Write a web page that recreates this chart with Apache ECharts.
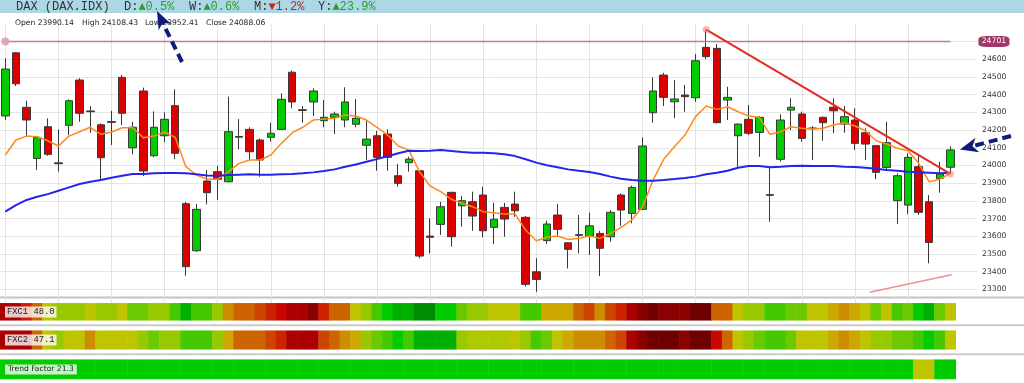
<!DOCTYPE html>
<html><head><meta charset="utf-8">
<script src="https://cdn.jsdelivr.net/npm/echarts@6/dist/echarts.min.js"></script>
<style>html,body{margin:0;padding:0;background:#fff}#c{width:1024px;height:383px}</style>
</head><body><div id="c"></div>
<script>
// ---- data ----
const opens  = [24280,24637,24329,24040,24219,24015,24227,24483,24308,24230,24248,24498,24100,24421,24055,24168,24338,23784,23518,23912,23965,23908,24164,24204,24144,24159,24204,24527,24315,24359,24253,24272,24257,24233,24114,24168,24178,23942,24016,23970,23601,23667,23848,23772,23795,23833,23650,23763,23782,23707,23399,23575,23720,23563,23609,23601,23616,23597,23833,23729,23752,24298,24511,24360,24398,24383,24668,24662,24370,24168,24261,24187,23835,24035,24313,24291,24212,24272,24329,24234,24257,24185,24112,23989,23801,23776,23993,23795,23927,23990.14];
const highs  = [24606,24640,24366,24162,24266,24204,24374,24493,24336,24238,24309,24513,24247,24440,24306,24300,24430,23795,23782,23974,23997,24389,24262,24216,24153,24242,24408,24536,24336,24436,24370,24304,24442,24376,24253,24196,24204,24008,24049,23974,23701,23795,23852,23827,23852,23880,23789,23789,23852,23714,23475,23688,23782,23566,23720,23733,23631,23748,23842,23886,24159,24498,24524,24483,24455,24630,24766,24686,24445,24238,24342,24279,23993,24289,24380,24304,24223,24276,24380,24336,24323,24210,24116,24247,23955,24069,24053,23833,24021,24108.43];
const lows   = [24257,24449,24168,23974,24055,23965,24172,24247,24185,23918,24116,24229,24063,23940,24046,24131,24036,23377,23512,23780,23805,23905,24091,24031,23936,24134,24200,24323,24242,24279,24216,24178,24216,24216,24031,23970,23970,23880,23965,23475,23503,23607,23541,23654,23631,23594,23556,23597,23710,23315,23286,23556,23594,23418,23503,23494,23375,23569,23658,23673,23748,24242,24336,24267,24304,24360,24600,24238,24257,23984,24172,24049,23682,24021,24200,24134,24031,24140,24182,24185,24087,24031,23922,23980,23669,23725,23720,23447,23846,23952.41];
const closes = [24545,24462,24257,24159,24063,24010,24366,24295,24304,24044,24244,24295,24216,23969,24216,24261,24069,23428,23752,23846,23922,24191,24160,24078,24031,24182,24374,24359,24311,24421,24272,24291,24359,24267,24149,24046,24046,23899,24036,23488,23594,23767,23597,23801,23714,23631,23696,23697,23744,23328,23356,23669,23639,23526,23605,23659,23532,23735,23748,23876,24110,24421,24385,24376,24389,24592,24615,24242,24385,24234,24182,24272,23831,24257,24329,24153,24208,24242,24309,24276,24125,24121,23961,24129,23942,24046,23735,23565,23952,24088.06];
const maFast = [24059,24144,24166,24162,24140,24110,24166,24191,24216,24176,24189,24213,24213,24157,24166,24189,24159,23993,23946,23923,23922,23965,24012,24031,24031,24059,24125,24184,24216,24257,24262,24267,24285,24280,24257,24216,24172,24110,24087,23965,23884,23852,23809,23786,23767,23739,23733,23725,23725,23635,23575,23594,23601,23582,23588,23601,23588,23616,23650,23692,23767,23918,24035,24106,24172,24276,24336,24317,24332,24304,24280,24272,24176,24191,24219,24210,24206,24210,24229,24242,24223,24196,24140,24121,24097,24083,24012,23908,23922,23956];
const maSlow = [23739,23776,23805,23823,23838,23857,23876,23895,23908,23918,23931,23942,23952,23952,23956,23957,23957,23956,23950,23944,23942,23946,23948,23950,23948,23948,23950,23952,23956,23961,23969,23978,23993,24006,24021,24036,24052,24069,24083,24082,24083,24087,24082,24076,24072,24072,24069,24063,24053,24035,24016,24001,23990,23978,23970,23963,23952,23937,23925,23918,23914,23914,23918,23923,23929,23937,23950,23959,23970,23987,23997,23997,23990,23993,23997,23999,23997,23997,23997,23993,23991,23987,23982,23974,23970,23965,23961,23959,23956,23959];
const fxc1 = [17,17,25,34,47,53,53,53,47,53,53,47,59,59,53,53,65,80,65,65,53,38,34,34,30,26,22,17,17,11,26,34,34,47,53,65,72,80,80,88,88,72,72,59,53,53,47,47,47,65,65,42,42,42,34,30,38,30,26,17,11,5,11,11,11,5,5,34,34,47,53,53,65,65,59,59,47,47,42,38,42,47,59,47,65,59,72,80,59,48.0];
const fxc2 = [17,17,17,34,47,53,47,47,38,47,47,47,47,53,59,53,53,65,65,65,53,42,34,34,34,30,26,17,17,17,30,34,38,42,53,59,65,72,65,80,80,80,80,53,50,50,50,50,47,53,65,59,47,42,38,38,38,34,30,17,11,5,5,5,11,5,5,22,34,47,53,59,65,65,59,47,47,47,42,38,42,47,53,53,59,59,65,72,65,47.1];
const trendFactor = [30,30,30,30,30,30,30,30,30,30,30,30,30,30,30,30,30,30,30,30,30,30,30,30,30,30,30,30,30,30,30,30,30,30,30,30,30,30,30,30,30,30,30,30,30,30,30,30,30,30,30,30,30,30,30,30,30,30,30,30,30,30,30,30,30,30,30,30,30,30,30,30,30,30,30,30,30,30,30,30,30,30,30,30,30,30,8,8,25,21.3];
const yTickLabels = [23300,23400,23500,23600,23700,23800,23900,24000,24100,24200,24300,24400,24500,24600];
const gridCandleIdx = [0,5,10,15,20,25,30,35,40,45,50,55,60,65,70,75,80,85];
const resistance = 24701;
const trendDown = [[66,24768],[89,23952]];
const trendUp = [[81.4,23283],[89.1,23382]];
const headerKeys = ['D','W','M','Y'];
const headerPct = [0.5,0.6,-1.2,23.9];
const symbolName = 'DAX (DAX.IDX)';

const categories = Array.from({length:92},(_,i)=>'d'+i);
const N = opens.length;
const candleData = opens.map((o,i)=>[o,closes[i],lows[i],highs[i]]);

const chart = echarts.init(document.getElementById('c'),null,{renderer:'canvas'});
const navy = '#101b7c';
function arrow(tail, tip, hl, hw){
  const dx=tip[0]-tail[0], dy=tip[1]-tail[1], L=Math.hypot(dx,dy), ux=dx/L, uy=dy/L;
  const bx=tip[0]-ux*hl, by=tip[1]-uy*hl, nx=-uy, ny=ux;
  const notch=[tip[0]-ux*hl*0.72, tip[1]-uy*hl*0.72];
  return [
    {type:'line',z:100,shape:{x1:tail[0],y1:tail[1],x2:notch[0],y2:notch[1]},style:{stroke:navy,lineWidth:4,lineDash:[9,5]}},
    {type:'polygon',z:100,shape:{points:[tip,[bx+nx*hw,by+ny*hw],notch,[bx-nx*hw,by-ny*hw]]},style:{fill:navy}}
  ];
}
const monoHdr = '12px "Liberation Mono", monospace';
const hdrX = [124,189,254,318];
const graphic = [
  {type:'rect',z:0,shape:{x:0,y:0,width:1024,height:13},style:{fill:'#acd8e6'}},
  {type:'text',z:10,x:16,y:7,style:{text:symbolName,font:monoHdr,fill:'#333',verticalAlign:'middle'}},
  {type:'rect',z:0,shape:{x:0,y:296.5,width:1024,height:2},style:{fill:'#c4c4c4'}},
  {type:'rect',z:0,shape:{x:0,y:324.3,width:1024,height:2},style:{fill:'#cacaca'}},
  {type:'rect',z:0,shape:{x:0,y:353.3,width:1024,height:2},style:{fill:'#cacaca'}},
];
headerKeys.forEach((k,i)=>{
  const v=headerPct[i];
  graphic.push({type:'text',z:10,x:hdrX[i],y:7,style:{text:k+':',font:monoHdr,fill:'#333',verticalAlign:'middle'}});
  graphic.push({type:'text',z:10,x:hdrX[i]+14.4,y:7,style:{text:(v>=0?'▲':'▼')+Math.abs(v).toFixed(1)+'%',font:monoHdr,fill:v>=0?'#2f9a2f':'#d02020',verticalAlign:'middle'}});
});
const ohlcFont = '7.6px "DejaVu Sans", sans-serif';
[['Open',opens[N-1],15],['High',highs[N-1],82],['Low',lows[N-1],145],['Close',closes[N-1],206]].forEach(a=>{
  graphic.push({type:'text',z:10,x:a[2],y:23.5,style:{text:a[0]+' '+a[1].toFixed(2),font:ohlcFont,fill:'#222',verticalAlign:'middle'}});
});
graphic.push({type:'text',z:100,x:5,y:312,style:{text:'FXC1 '+fxc1[N-1].toFixed(1),font:'8.8px "Liberation Mono", monospace',fill:'#222',verticalAlign:'middle',backgroundColor:'rgba(255,255,255,0.78)',padding:[1,2,1,2]}});
graphic.push({type:'text',z:100,x:5,y:340,style:{text:'FXC2 '+fxc2[N-1].toFixed(1),font:'8.8px "Liberation Mono", monospace',fill:'#222',verticalAlign:'middle',backgroundColor:'rgba(255,255,255,0.78)',padding:[1,2,1,2]}});
graphic.push({type:'text',z:100,x:5,y:369.5,style:{text:'Trend Factor '+trendFactor[N-1].toFixed(1),font:ohlcFont,fill:'#222',verticalAlign:'middle',backgroundColor:'rgba(255,255,255,0.78)',padding:[1,3,1,3]}});
arrow([182,62],[157,11],18,7).forEach(g=>graphic.push(g));
arrow([1011,136],[960,149.5],18,7.5).forEach(g=>graphic.push(g));

const fxcPieces = [
 {min:0,max:8,color:'#700000'},{min:8,max:14,color:'#8b0000'},{min:14,max:20,color:'#aa0000'},
 {min:20,max:24,color:'#c80800'},{min:24,max:28,color:'#cc2200'},{min:28,max:32,color:'#cc4400'},
 {min:32,max:36,color:'#cc6400'},{min:36,max:40,color:'#cc8e00'},{min:40,max:45,color:'#cca800'},
 {min:45,max:49,color:'#bec400'},{min:49,max:51,color:'#b0c800'},{min:51,max:56,color:'#98c800'},
 {min:56,max:62,color:'#6cc800'},{min:62,max:68,color:'#44c800'},{min:68,max:76,color:'#00cc00'},
 {min:76,max:84,color:'#00b000'},{min:84,max:100,color:'#008c00'}];

const heatGrids = [{top:303.3,height:17},{top:330.7,height:18.6},{top:359.7,height:19.3}];
const option = {
  animation:false,
  backgroundColor:'#fff',
  graphic:graphic,
  grid:[{left:0,right:47,top:23.95,height:283.05}].concat(heatGrids.map(g=>({left:0,right:47,top:g.top,height:g.height}))),
  xAxis:[
    {type:'category',gridIndex:0,data:categories,show:false},
    {type:'value',gridIndex:0,min:-0.5,max:91.5,show:false},
    {type:'category',gridIndex:1,data:categories,show:false},
    {type:'category',gridIndex:2,data:categories,show:false},
    {type:'category',gridIndex:3,data:categories,show:false}
  ],
  yAxis:[
    {type:'value',gridIndex:0,position:'right',min:23200,max:24800,interval:100,
     axisLine:{show:false},axisTick:{show:false},
     axisLabel:{margin:5,color:'#333',fontSize:7.7,fontFamily:'DejaVu Sans',
       formatter:v=>yTickLabels.indexOf(v)>=0?String(v):''},
     splitLine:{show:true,showMinLine:false,showMaxLine:false,lineStyle:{color:'#e6e6e6',width:1}}},
    {type:'category',gridIndex:1,data:['a'],show:false},
    {type:'category',gridIndex:2,data:['a'],show:false},
    {type:'category',gridIndex:3,data:['a'],show:false}
  ],
  visualMap:[
    {type:'piecewise',show:false,seriesIndex:[6,7],dimension:2,pieces:fxcPieces},
    {type:'piecewise',show:false,seriesIndex:8,dimension:2,pieces:[{min:0,max:15,color:'#bec400'},{min:15,max:100,color:'#00cc00'}]}
  ],
  series:[
    {type:'candlestick',xAxisIndex:0,yAxisIndex:0,data:candleData,barWidth:8,clip:false,
     itemStyle:{color:'#00cc00',color0:'#dd0000',borderColor:'#383838',borderColor0:'#383838',borderWidth:1},
     markLine:{silent:true,z:1,symbol:'none',label:{show:false},
       lineStyle:{color:'#e3e3e3',type:'solid',width:1},
       data:gridCandleIdx.map(i=>({xAxis:categories[i]}))}},
    {type:'line',xAxisIndex:0,yAxisIndex:0,data:maFast,showSymbol:false,symbol:'none',
     lineStyle:{color:'#ff8a1c',width:1.5}},
    {type:'line',xAxisIndex:0,yAxisIndex:0,data:maSlow,showSymbol:false,symbol:'none',
     lineStyle:{color:'#2424ee',width:2}},
    {type:'line',xAxisIndex:1,yAxisIndex:0,
     data:[{value:[0,resistance],symbol:'circle',symbolSize:8,itemStyle:{color:'rgba(222,160,180,0.9)'}},{value:[89,resistance],symbol:'none'}],
     lineStyle:{color:'#c47a98',width:1.5},
     markPoint:{silent:true,data:[{coord:[89,resistance],symbol:'roundRect',symbolSize:[31,11],symbolOffset:[43.5,0],
       itemStyle:{color:'#a3376a'},label:{show:true,position:'inside',formatter:String(resistance),color:'#fff',fontSize:7.7,fontFamily:'DejaVu Sans'}}]}},
    {type:'line',xAxisIndex:1,yAxisIndex:0,data:trendDown,symbol:'circle',symbolSize:7,
     itemStyle:{color:'rgba(245,120,120,0.55)'},lineStyle:{color:'#e52a1e',width:2}},
    {type:'line',xAxisIndex:1,yAxisIndex:0,data:trendUp,symbol:'none',
     lineStyle:{color:'#f29090',width:1.5}},
    {type:'heatmap',xAxisIndex:2,yAxisIndex:1,data:fxc1.map((v,i)=>[i,0,v]),itemStyle:{borderWidth:0},emphasis:{disabled:true}},
    {type:'heatmap',xAxisIndex:3,yAxisIndex:2,data:fxc2.map((v,i)=>[i,0,v]),itemStyle:{borderWidth:0},emphasis:{disabled:true}},
    {type:'heatmap',xAxisIndex:4,yAxisIndex:3,data:trendFactor.map((v,i)=>[i,0,v]),itemStyle:{borderWidth:0},emphasis:{disabled:true}}
  ]
};
chart.setOption(option);
</script></body></html>
